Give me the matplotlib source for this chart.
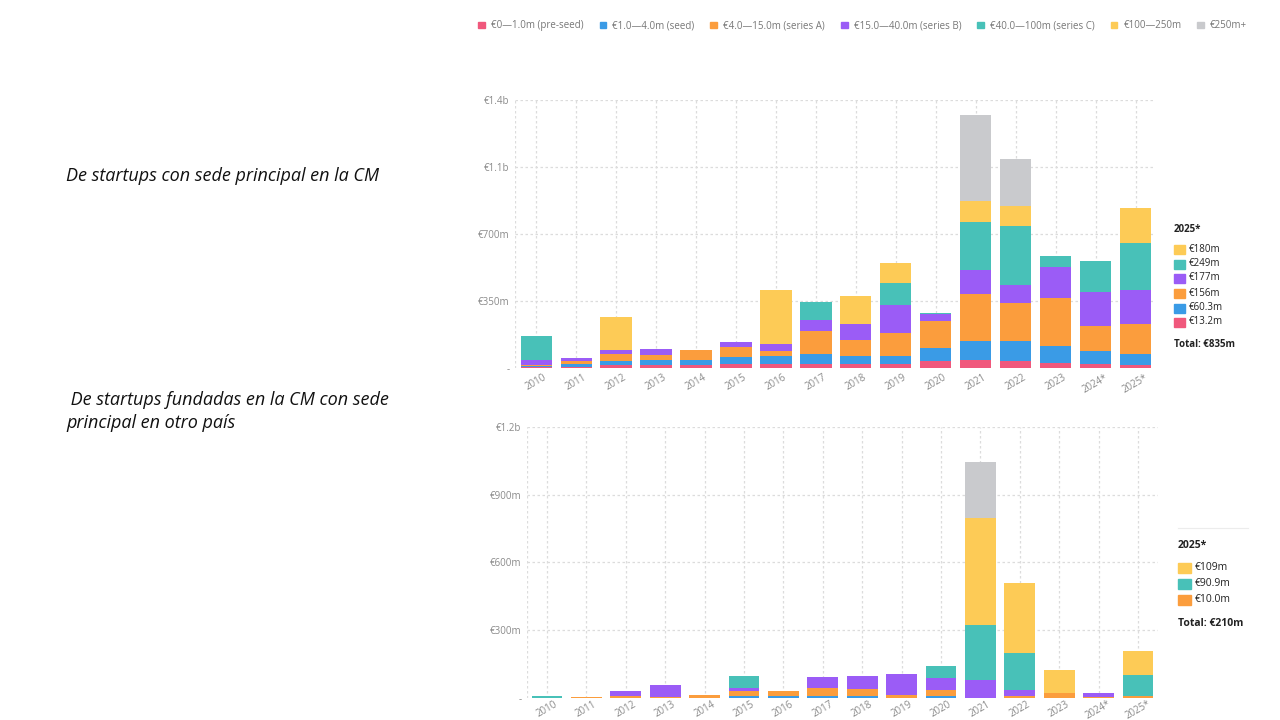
import matplotlib.pyplot as plt
from matplotlib.patches import Patch, Rectangle
from matplotlib.lines import Line2D
import numpy as np

years = ['2010', '2011', '2012', '2013', '2014', '2015', '2016', '2017',
         '2018', '2019', '2020', '2021', '2022', '2023', '2024*', '2025*']
series = ['€0—1.0m (pre-seed)', '€1.0—4.0m (seed)', '€4.0—15.0m (series A)',
          '€15.0—40.0m (series B)', '€40.0—100m (series C)', '€100—250m', '€250m+']
colors = ['#F0587C', '#3A9BE6', '#FB9D3D', '#9B5CF6', '#48C1B8', '#FDCB56', '#C9CACD']

# top chart: HQ in Comunidad de Madrid (€m)
hq_preseed = [4, 4, 14, 17, 17, 23, 19, 23, 19, 23, 36, 40, 35, 26, 19, 13.2]
hq_seed = [6, 15, 22, 23, 26, 35, 42, 49, 43, 40, 68, 101, 104, 89, 70, 60.3]
hq_a = [8, 15, 35, 26, 49, 52, 28, 122, 85, 120, 144, 243, 200, 252, 129, 156]
hq_b = [25, 18, 21, 31, 0, 26, 38, 59, 83, 148, 33, 130, 92, 163, 179, 177]
hq_c = [124, 0, 0, 0, 0, 0, 0, 92, 0, 115, 5, 247, 313, 54, 162, 249]
hq_100 = [0, 0, 174, 0, 0, 0, 279, 0, 148, 102, 0, 113, 101, 0, 0, 180]
hq_250 = [0, 0, 0, 0, 0, 0, 0, 0, 0, 0, 0, 448, 247, 0, 0, 0]

# bottom chart: founded in CM, HQ abroad (€m)
ab_preseed = [0] * 16
ab_seed = [2, 0, 0, 0, 2, 7, 7, 10, 7, 0, 9, 0, 0, 0, 0, 0]
ab_a = [0, 3, 8, 3, 10, 22, 22, 34, 33, 12, 25, 0, 9, 22, 3, 10.0]
ab_b = [0, 0, 22, 56, 0, 15, 0, 47, 59, 92, 55, 78, 28, 0, 19, 0]
ab_c = [6, 3, 0, 0, 0, 53, 0, 0, 0, 0, 52, 247, 163, 0, 0, 90.9]
ab_100 = [0, 0, 0, 0, 0, 0, 0, 0, 0, 0, 0, 470, 310, 103, 0, 109]
ab_250 = [0, 0, 0, 0, 0, 0, 0, 0, 0, 0, 0, 251, 0, 0, 0, 0]

top_ticks = [0, 350, 700, 1050, 1400]
top_ticklabels = ['-', '€350m', '€700m', '€1.1b', '€1.4b']
bot_ticks = [0, 300, 600, 900, 1200]
bot_ticklabels = ['-', '€300m', '€600m', '€900m', '€1.2b']

top_legend = ['€180m', '€249m', '€177m', '€156m', '€60.3m', '€13.2m']
top_total = 'Total: €835m'
bot_legend = ['€109m', '€90.9m', '€10.0m']
bot_total = 'Total: €210m'

GRID = '#dcdcdc'
TICK = '#8a8a8a'

plt.rcParams['font.family'] = ['Open Sans', 'DejaVu Sans']

fig = plt.figure(figsize=(12.8, 7.2), dpi=100)


def stacked(ax, data, ticks, ticklabels, xlim, xpad):
    x = np.arange(len(years))
    bottom = np.zeros(len(years))
    for vals, c in zip(data, colors):
        vals = np.array(vals, dtype=float)
        ax.bar(x, vals, 0.78, bottom=bottom, color=c, linewidth=0, zorder=3)
        bottom += vals
    ax.set_xlim(*xlim)
    ax.set_ylim(0, ticks[-1])
    ax.set_yticks(ticks)
    ax.set_yticklabels(ticklabels, fontsize=7, color=TICK)
    ax.set_xticks(x)
    ax.set_xticklabels(years, rotation=30, fontsize=7, color=TICK)
    ax.tick_params(axis='y', length=0, pad=4)
    ax.tick_params(axis='x', length=0, pad=xpad)
    for s in ax.spines.values():
        s.set_visible(False)
    for t in ticks[1:]:
        ax.axhline(t, color=GRID, lw=0.9, ls=(0, (2, 2)), zorder=1)
    for xi in list(x) + [xlim[0]]:
        ax.axvline(xi, color=GRID, lw=0.9, ls=(0, (2, 2)), zorder=1)


ax1 = fig.add_axes([0.4023, 0.4889, 0.4984, 0.3722])
stacked(ax1, [hq_preseed, hq_seed, hq_a, hq_b, hq_c, hq_100, hq_250],
        top_ticks, top_ticklabels, (-0.53, 15.43), 3)

ax2 = fig.add_axes([0.4117, 0.0306, 0.4930, 0.3764])
stacked(ax2, [ab_preseed, ab_seed, ab_a, ab_b, ab_c, ab_100, ab_250],
        bot_ticks, bot_ticklabels, (-0.51, 15.51), 0.5)

# top legend
handles = [Patch(color=c, label=s) for s, c in zip(series, colors)]
leg = fig.legend(handles=handles, loc='center', bbox_to_anchor=(0.674, 0.964),
                 ncol=7, frameon=False, fontsize=7, handlelength=0.7,
                 handleheight=0.7, handletextpad=0.6, columnspacing=1.65)
for t in leg.get_texts():
    t.set_color('#777777')

W, H = 1280, 720


def side_legend(x0, title_y, rows_y, labels, cols, total, total_y, sq, fs, line_y=None):
    if line_y is not None:
        fig.add_artist(Line2D([x0 / W, (x0 + 70) / W], [1 - line_y / H] * 2,
                              color='#ececec', lw=0.8))
    fig.text(x0 / W, 1 - title_y / H, '2025*', fontsize=fs, fontweight='bold',
             color='#222222', va='center')
    for lab, c, y in zip(labels, cols, rows_y):
        fig.add_artist(Rectangle((x0 / W, 1 - (y + sq[1] / 2) / H), sq[0] / W, sq[1] / H,
                                 color=c, transform=fig.transFigure))
        fig.text((x0 + sq[0] + 4) / W, 1 - y / H, lab, fontsize=fs, color='#222222',
                 va='center')
    fig.text(x0 / W, 1 - total_y / H, total, fontsize=fs, fontweight='bold',
             color='#222222', va='center')


side_legend(1174, 229, [249, 264, 278, 293, 308, 322], top_legend,
            [colors[5], colors[4], colors[3], colors[2], colors[1], colors[0]],
            top_total, 344, (11, 9), 7)
side_legend(1178, 546, [568, 584, 600], bot_legend,
            [colors[5], colors[4], colors[2]], bot_total, 624, (13, 10), 7.5, line_y=528)

# left captions
cap = dict(fontsize=13, style='italic', va='center', color='#111111')
fig.text(66 / W, 1 - 176 / H, 'De startups con sede principal en la CM', **cap)
fig.text(66 / W, 1 - 400 / H, ' De startups fundadas en la CM con sede', **cap)
fig.text(66 / W, 1 - 423 / H, 'principal en otro país', **cap)

fig.savefig('out.png', dpi=100)
